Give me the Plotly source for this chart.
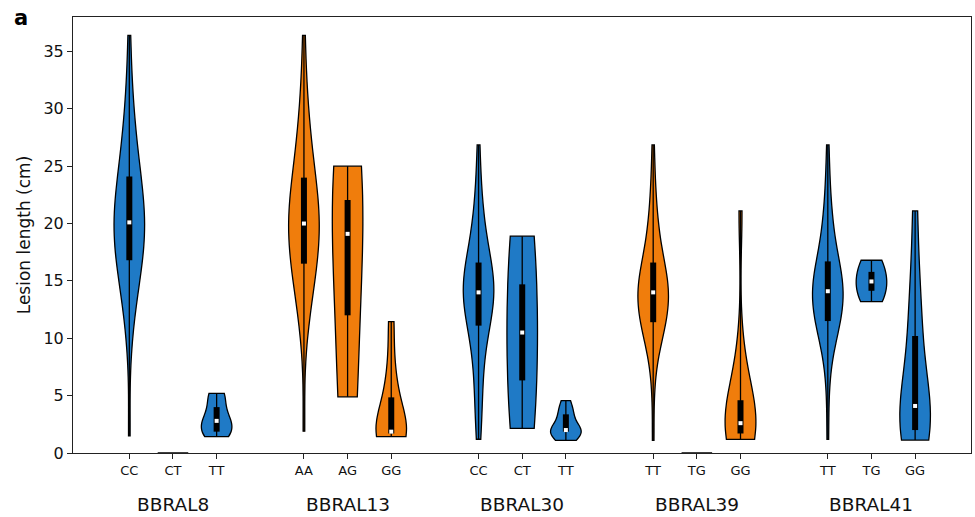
import numpy as np
import plotly.graph_objects as go

# ---------------- data (lesion length, cm) ----------------
LOCI = ["BBRAL8", "BBRAL13", "BBRAL30", "BBRAL39", "BBRAL41"]
GENOTYPES = [["CC", "CT", "TT"], ["AA", "AG", "GG"], ["CC", "CT", "TT"],
             ["TT", "TG", "GG"], ["TT", "TG", "GG"]]

BBRAL8_CC = [1.5, 9.5, 11.6, 12.8, 13.7, 14.4, 15.0, 15.5, 15.9, 16.4, 16.8, 17.3, 17.7, 18.1,
             18.5, 18.8, 19.1, 19.4, 19.6, 19.9, 20.1, 20.4, 20.8, 21.2, 21.6, 22.0, 22.4, 22.8,
             23.2, 23.6, 24.1, 24.6, 25.2, 25.9, 26.6, 27.4, 28.3, 29.4, 30.8, 32.8, 36.4]
BBRAL8_CT = [0.0]
BBRAL8_TT = [1.42, 1.7, 1.86, 2.4, 2.8, 3.1, 4.0, 5.1, 5.2]

BBRAL13_AA = [1.9, 9.8, 11.6, 12.7, 13.5, 14.2, 14.8, 15.3, 15.7, 16.1, 16.5, 17.0, 17.5, 17.9,
              18.3, 18.7, 19.0, 19.3, 19.6, 19.8, 20.0, 20.3, 20.7, 21.1, 21.5, 21.9, 22.3, 22.7,
              23.1, 23.5, 24.0, 24.5, 25.1, 25.8, 26.5, 27.3, 28.2, 29.3, 30.7, 32.7, 36.4]
BBRAL13_AG = [4.9, 19.1, 25.0]
BBRAL13_GG = [1.42, 1.5, 1.7, 1.8, 1.86, 2.5, 4.85, 7.0, 11.45]

BBRAL30_CC = [1.2, 2.6, 3.9, 5.1, 6.3, 7.5, 8.5, 9.4, 10.1, 10.6, 11.1, 11.5, 11.9, 12.3,
              12.6, 12.9, 13.2, 13.5, 13.7, 13.9, 14.0, 14.2, 14.4, 14.6, 14.8, 15.0, 15.3,
              15.6, 15.9, 16.2, 16.6, 17.0, 17.5, 18.0, 18.6, 19.3, 20.1, 21.0, 22.3, 24.0, 26.85]
BBRAL30_CT = [2.15, 10.5, 18.9]
BBRAL30_TT = [1.1, 1.5, 1.86, 1.95, 2.0, 2.2, 3.37, 3.6, 4.56]

BBRAL39_TT = [1.1, 6.0, 8.2, 9.2, 9.9, 10.4, 10.8, 11.0, 11.2, 11.3, 11.4, 11.8, 12.2, 12.5,
              12.8, 13.1, 13.4, 13.6, 13.8, 13.9, 14.0, 14.2, 14.4, 14.6, 14.8, 15.0, 15.3,
              15.6, 15.9, 16.2, 16.6, 17.0, 17.5, 18.0, 18.6, 19.3, 20.1, 21.0, 22.3, 24.0, 26.85]
BBRAL39_TG = [0.0]
BBRAL39_GG = [1.19, 1.3, 1.5, 1.7, 2.0, 2.3, 2.6, 3.0, 3.8, 4.6, 6.0, 8.5, 21.1]

BBRAL41_TT = [1.2, 5.5, 7.9, 9.0, 9.8, 10.4, 10.8, 11.1, 11.3, 11.4, 11.5, 11.9, 12.3, 12.6,
              12.9, 13.2, 13.5, 13.7, 13.9, 14.0, 14.1, 14.3, 14.5, 14.7, 14.9, 15.1, 15.4,
              15.7, 16.0, 16.3, 16.7, 17.1, 17.6, 18.1, 18.7, 19.4, 20.2, 21.1, 22.4, 24.1, 26.85]
BBRAL41_TG = [13.2, 14.45, 15.45, 16.8]
BBRAL41_GG = [1.13, 1.4, 1.7, 2.0, 2.6, 3.3, 4.1, 5.5, 7.5, 10.2, 12.5, 15.0, 21.1]

LOCUS_DATA = [
    [BBRAL8_CC, BBRAL8_CT, BBRAL8_TT],
    [BBRAL13_AA, BBRAL13_AG, BBRAL13_GG],
    [BBRAL30_CC, BBRAL30_CT, BBRAL30_TT],
    [BBRAL39_TT, BBRAL39_TG, BBRAL39_GG],
    [BBRAL41_TT, BBRAL41_TG, BBRAL41_GG],
]
LOCUS_COLORS = ["#1f7ac6", "#f07d0c", "#1f7ac6", "#f07d0c", "#1f7ac6"]

# ---------------- figure ----------------
FONT = "DejaVu Sans, Liberation Sans, Arial, sans-serif"
fig = go.Figure()

tickvals, ticktext, centers = [], [], []
for i, (locus, gts, groups) in enumerate(zip(LOCI, GENOTYPES, LOCUS_DATA)):
    color = LOCUS_COLORS[i]
    for j, (gt, vals) in enumerate(zip(gts, groups)):
        pos = 1 + 4 * i + j
        tickvals.append(pos)
        ticktext.append(gt)
        v = np.asarray(vals, dtype=float)
        n = len(v)
        spread = v.max() - v.min()
        bw = None
        if n > 1 and spread > 0:
            bw = float(np.std(v, ddof=1) * n ** (-0.2))
        fig.add_trace(go.Violin(
            x=[pos] * n, y=v, width=0.7, scalemode="width", spanmode="hard",
            bandwidth=bw, fillcolor=color, line=dict(color="black", width=1.3),
            points=False, box_visible=False, meanline_visible=False,
            hoverinfo="skip", showlegend=False, opacity=1,
        ))
        if n > 1 and spread > 0:
            q1, med, q3 = np.percentile(v, [25, 50, 75])
            fig.add_trace(go.Scatter(x=[pos, pos], y=[v.min(), v.max()], mode="lines",
                                     line=dict(color="black", width=1.3),
                                     hoverinfo="skip", showlegend=False))
            fig.add_trace(go.Scatter(x=[pos, pos], y=[q1, q3], mode="lines",
                                     line=dict(color="black", width=6),
                                     hoverinfo="skip", showlegend=False))
            fig.add_trace(go.Scatter(x=[pos], y=[med], mode="markers",
                                     marker=dict(symbol="square", size=4, color="white",
                                                 line=dict(width=0)),
                                     hoverinfo="skip", showlegend=False))
    centers.append(1 + 4 * i + 1)

for locus, c in zip(LOCI, centers):
    fig.add_annotation(x=c, y=-0.119, xref="x", yref="paper", text=locus,
                       showarrow=False, xanchor="center", yanchor="middle",
                       font=dict(family=FONT, size=18.5, color="#111"))

fig.add_annotation(x=-0.068, y=0.997, xref="paper", yref="paper", text="<b>a</b>",
                   showarrow=False, xanchor="left", yanchor="middle",
                   font=dict(family=FONT, size=21, color="black"))

fig.update_layout(
    width=975, height=517,
    margin=dict(l=73, r=4, t=17, b=64),
    paper_bgcolor="white", plot_bgcolor="white",
    violinmode="overlay",
    font=dict(family=FONT, color="#111"),
    xaxis=dict(range=[-0.29, 20.28], tickvals=tickvals, ticktext=ticktext,
               showgrid=False, zeroline=False, showline=True, mirror=True,
               linecolor="#222", linewidth=1.1, ticks="outside", ticklen=5,
               tickcolor="#222", tickfont=dict(family=FONT, size=13, color="#111")),
    yaxis=dict(range=[0, 38], tickvals=[0, 5, 10, 15, 20, 25, 30, 35],
               showgrid=False, zeroline=False, showline=True, mirror=True,
               linecolor="#222", linewidth=1.1, ticks="outside", ticklen=5,
               tickcolor="#222", tickfont=dict(family=FONT, size=16, color="#111"),
               title=dict(text="Lesion length (cm)", standoff=8,
                          font=dict(family=FONT, size=17, color="#111"))),
)

fig.write_html("out.html")
